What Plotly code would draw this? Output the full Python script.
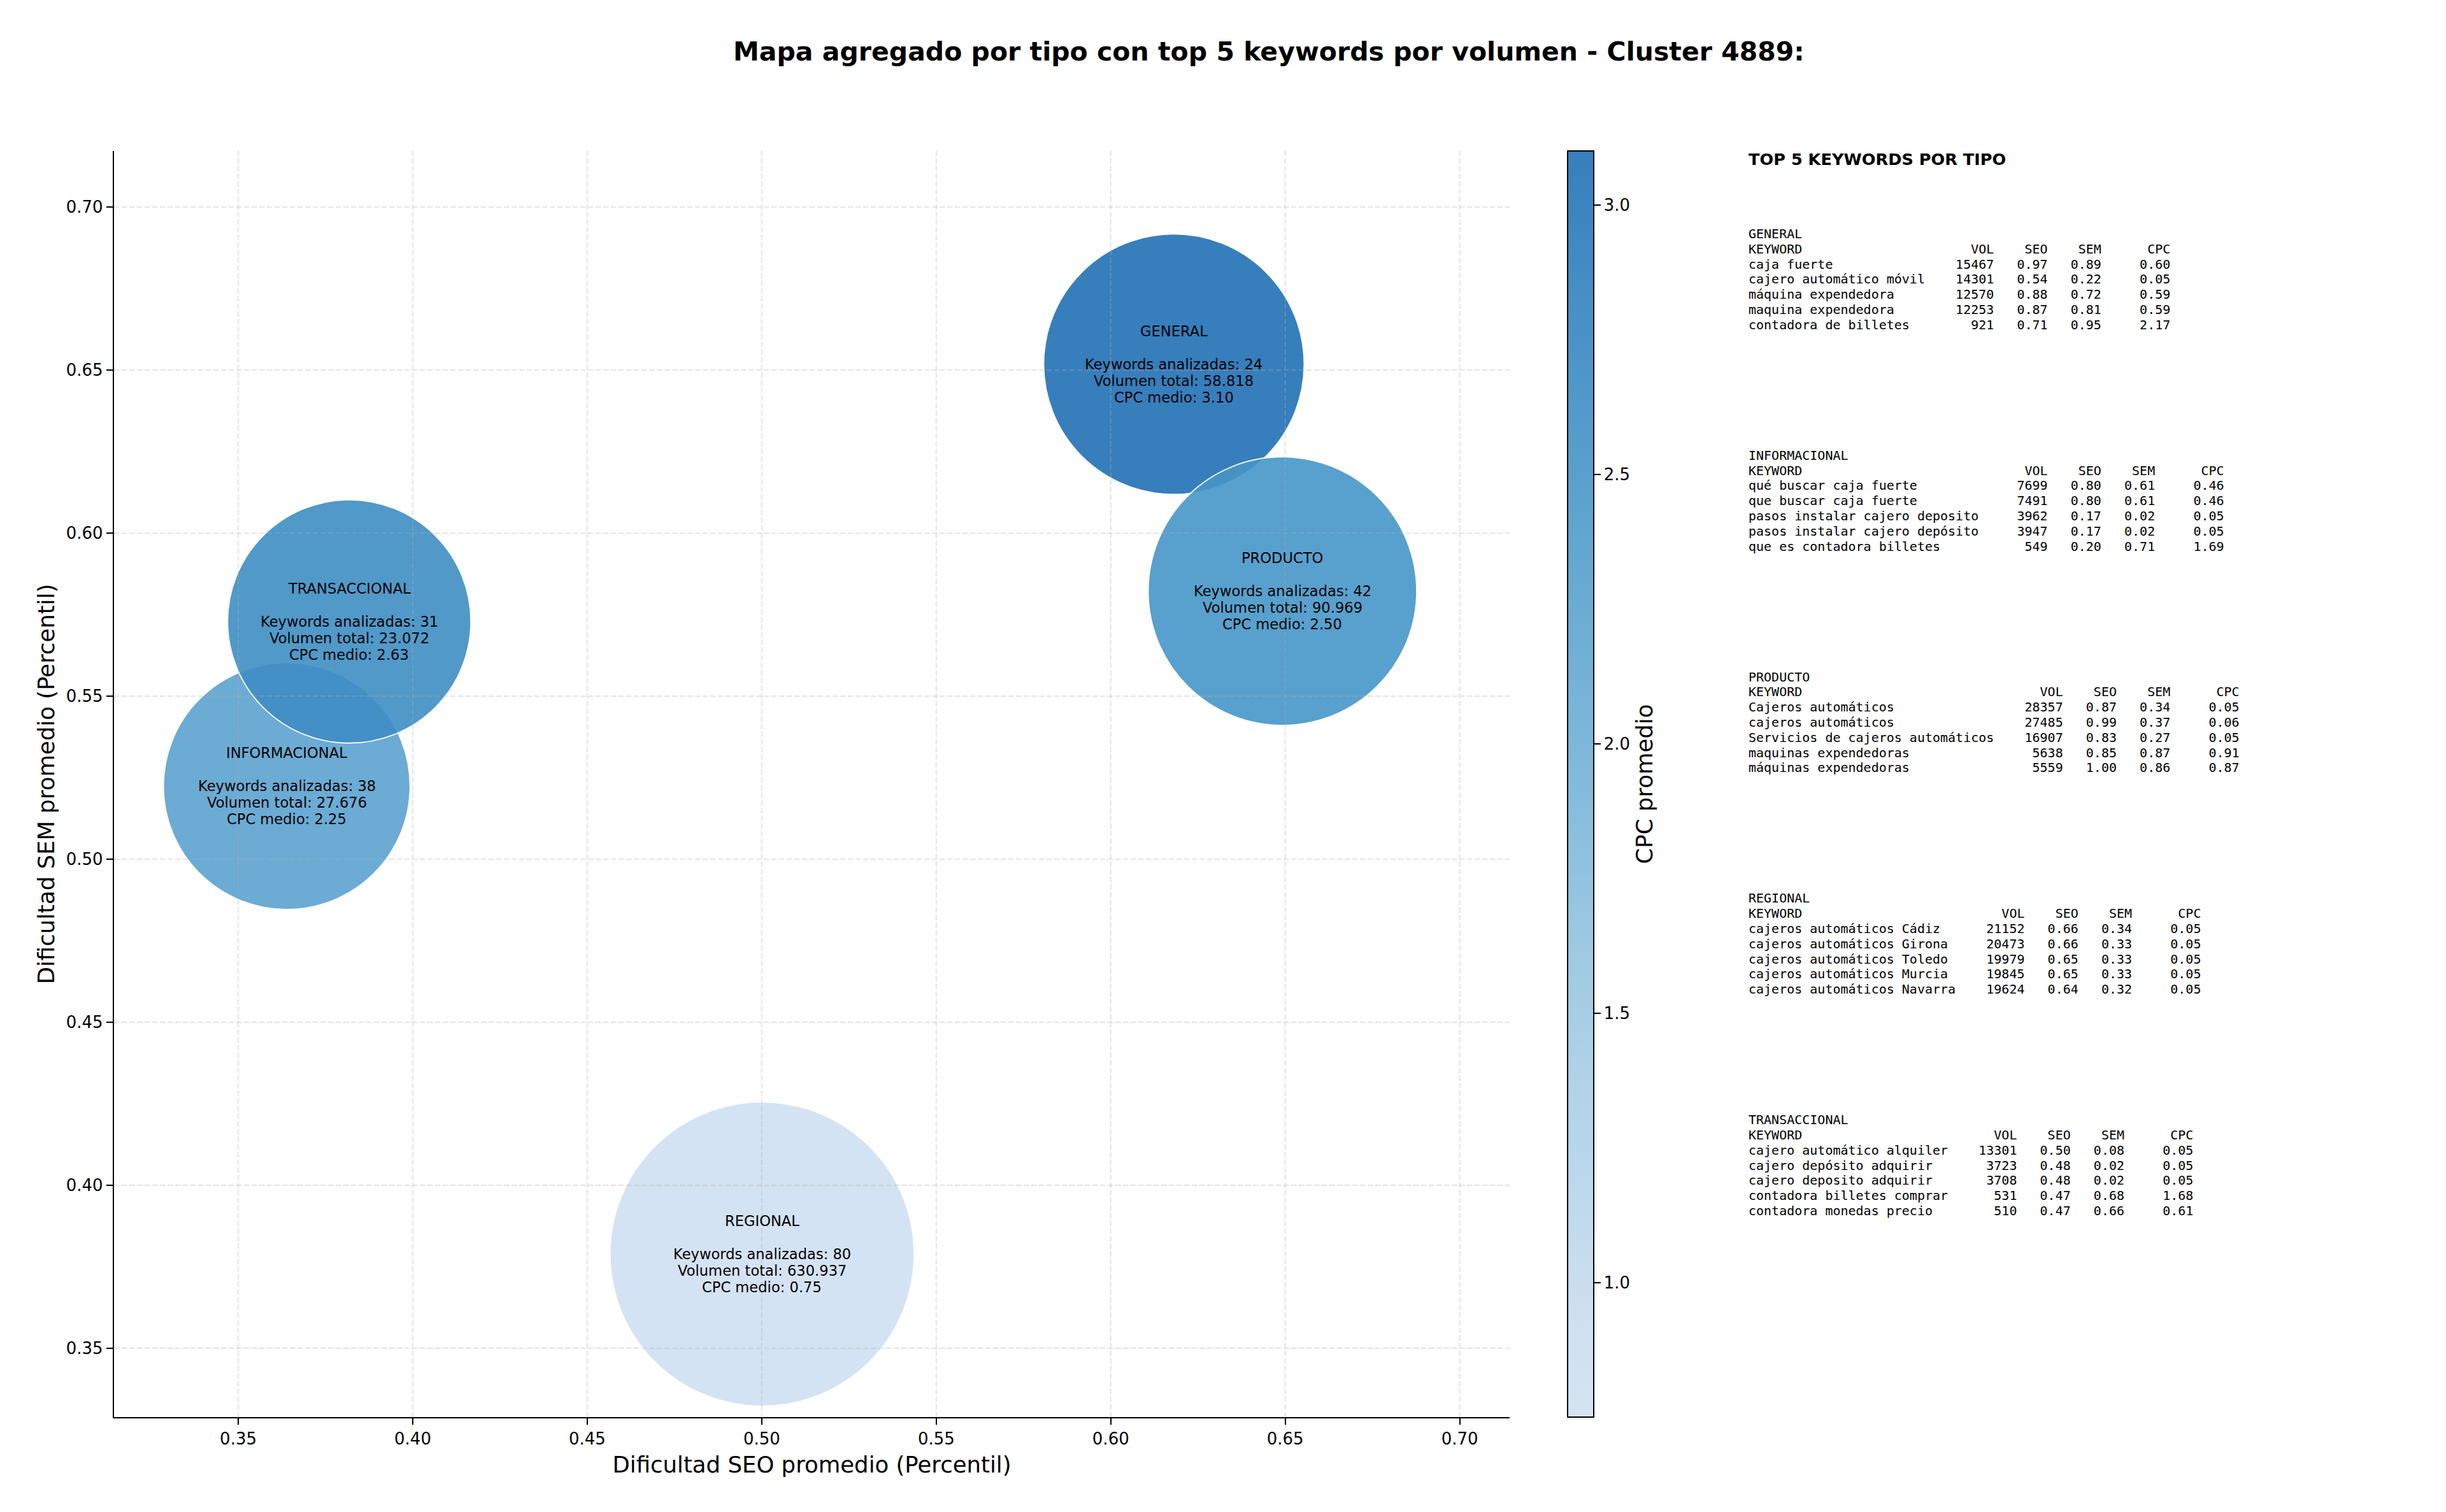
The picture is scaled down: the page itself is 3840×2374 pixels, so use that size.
import numpy as np
import plotly.graph_objects as go

W, H = 3840, 2374

# ---------------- data ----------------
tipos = ["GENERAL", "INFORMACIONAL", "PRODUCTO", "REGIONAL", "TRANSACCIONAL"]
seo_medio = [0.6181, 0.3639, 0.6492, 0.5001, 0.3818]
sem_medio = [0.6518, 0.5224, 0.5822, 0.3789, 0.5729]
n_keywords = [24, 38, 42, 80, 31]
volumen_total = [58818, 27676, 90969, 630937, 23072]
cpc_medio = [3.10, 2.25, 2.50, 0.75, 2.63]

x_ticks = [0.35, 0.40, 0.45, 0.50, 0.55, 0.60, 0.65, 0.70]
y_ticks = [0.35, 0.40, 0.45, 0.50, 0.55, 0.60, 0.65, 0.70]
cb_ticks = [1.0, 1.5, 2.0, 2.5, 3.0]

general_kw = ["caja fuerte", "cajero automático móvil", "máquina expendedora",
              "maquina expendedora", "contadora de billetes"]
general_vol = [15467, 14301, 12570, 12253, 921]
general_seo = [0.97, 0.54, 0.88, 0.87, 0.71]
general_sem = [0.89, 0.22, 0.72, 0.81, 0.95]
general_cpc = [0.60, 0.05, 0.59, 0.59, 2.17]

informacional_kw = ["qué buscar caja fuerte", "que buscar caja fuerte",
                    "pasos instalar cajero deposito", "pasos instalar cajero depósito",
                    "que es contadora billetes"]
informacional_vol = [7699, 7491, 3962, 3947, 549]
informacional_seo = [0.80, 0.80, 0.17, 0.17, 0.20]
informacional_sem = [0.61, 0.61, 0.02, 0.02, 0.71]
informacional_cpc = [0.46, 0.46, 0.05, 0.05, 1.69]

producto_kw = ["Cajeros automáticos", "cajeros automáticos",
               "Servicios de cajeros automáticos", "maquinas expendedoras",
               "máquinas expendedoras"]
producto_vol = [28357, 27485, 16907, 5638, 5559]
producto_seo = [0.87, 0.99, 0.83, 0.85, 1.00]
producto_sem = [0.34, 0.37, 0.27, 0.87, 0.86]
producto_cpc = [0.05, 0.06, 0.05, 0.91, 0.87]

regional_kw = ["cajeros automáticos Cádiz", "cajeros automáticos Girona",
               "cajeros automáticos Toledo", "cajeros automáticos Murcia",
               "cajeros automáticos Navarra"]
regional_vol = [21152, 20473, 19979, 19845, 19624]
regional_seo = [0.66, 0.66, 0.65, 0.65, 0.64]
regional_sem = [0.34, 0.33, 0.33, 0.33, 0.32]
regional_cpc = [0.05, 0.05, 0.05, 0.05, 0.05]

transaccional_kw = ["cajero automático alquiler", "cajero depósito adquirir",
                    "cajero deposito adquirir", "contadora billetes comprar",
                    "contadora monedas precio"]
transaccional_vol = [13301, 3723, 3708, 531, 510]
transaccional_seo = [0.50, 0.48, 0.48, 0.47, 0.47]
transaccional_sem = [0.08, 0.02, 0.02, 0.68, 0.66]
transaccional_cpc = [0.05, 0.05, 0.05, 1.68, 0.61]

# ---------------- styling helpers ----------------
FONT = "DejaVu Sans"
MONO = "DejaVu Sans Mono"
ALPHA = 0.9

_blues = [(247, 251, 255), (222, 235, 247), (198, 219, 239), (158, 202, 225),
          (107, 174, 214), (66, 146, 198), (33, 113, 181), (8, 81, 156), (8, 48, 107)]


def blues(t):
    p = t * (len(_blues) - 1)
    i = min(int(np.floor(p)), len(_blues) - 2)
    f = p - i
    a, b = np.array(_blues[i]), np.array(_blues[i + 1])
    return a + (b - a) * f


def make_scale(lo, hi, alpha=1.0, n=12):
    out = []
    for k in range(n):
        s = k / (n - 1)
        c = blues(lo + (hi - lo) * s)
        c = alpha * c + (1 - alpha) * 255
        out.append([s, "rgb(%d,%d,%d)" % tuple(np.round(c).astype(int))])
    return out


LO, HI = 0.2, 0.75
scale_marker = make_scale(LO, HI)
scale_bar = make_scale(LO, HI, ALPHA)
cmin, cmax = min(cpc_medio), max(cpc_medio)

xr = [0.3144, 0.7143]
yr = [0.3289, 0.7172]

# plot area in pixels
PL, PR, PT, PB = 179, 2370, 237, 2225

fig = go.Figure()

# bubble sizes from log volume
sizes = [91.9 + 66.5 * np.log10(v) for v in volumen_total]

fig.add_trace(go.Scatter(
    x=seo_medio, y=sem_medio, mode="markers",
    marker=dict(size=sizes, sizemode="diameter", color=cpc_medio,
                colorscale=scale_marker, cmin=cmin, cmax=cmax,
                opacity=ALPHA, line=dict(color="white", width=2),
                showscale=False),
    hoverinfo="skip", showlegend=False))

# grid lines above bubbles (as in reference)
gx, gy = [], []
for t in x_ticks:
    gx += [t, t, None]
    gy += [yr[0], yr[1], None]
for t in y_ticks:
    gx += [xr[0], xr[1], None]
    gy += [t, t, None]
fig.add_trace(go.Scatter(x=gx, y=gy, mode="lines",
                         line=dict(color="rgba(176,176,176,0.3)", width=2.3, dash="8.4px,3.6px"),
                         hoverinfo="skip", showlegend=False))

# colorbar carrier
fig.add_trace(go.Scatter(
    x=[None], y=[None], mode="markers",
    marker=dict(color=[cmin, cmax], colorscale=scale_bar, cmin=cmin, cmax=cmax,
                showscale=True,
                colorbar=dict(
                    x=2461 / W, xanchor="left", xpad=0, ypad=0,
                    y=1 - (PT + PB) / 2 / H, yanchor="middle",
                    len=PB - PT, lenmode="pixels",
                    thickness=41, thicknessmode="pixels",
                    outlinewidth=2, outlinecolor="black",
                    ticks="outside", ticklen=10, tickwidth=2.3, tickcolor="black",
                    tickvals=cb_ticks, ticktext=["%.1f" % v for v in cb_ticks],
                    tickfont=dict(family=FONT, size=26, color="black"),
                    title=dict(text="CPC promedio", side="right",
                               font=dict(family=FONT, size=35.5, color="black")),
                )),
    hoverinfo="skip", showlegend=False))

annotations = []

# bubble labels
LS = 26
for t, xv, yv, n, v, c in zip(tipos, seo_medio, sem_medio, n_keywords, volumen_total, cpc_medio):
    lines = [t, "", "Keywords analizadas: %d" % n,
             "Volumen total: " + format(v, ",").replace(",", "."),
             "CPC medio: %.2f" % c]
    for i, ln in enumerate(lines):
        if not ln:
            continue
        annotations.append(dict(x=xv, y=yv, xref="x", yref="y", text=ln, showarrow=False,
                                 xanchor="center", yanchor="middle", yshift=(2 - i) * LS,
                                 font=dict(family=FONT, size=22.6, color="black")))

# right panel
PX = 2743 / W
annotations.append(dict(x=PX, y=1 - 250 / H, xref="paper", yref="paper",
                        text="<b>TOP 5 KEYWORDS POR TIPO</b>", showarrow=False,
                        xanchor="left", yanchor="middle",
                        font=dict(family=FONT, size=25.6, color="black")))

blocks = [
    ("GENERAL", general_kw, general_vol, general_seo, general_sem, general_cpc),
    ("INFORMACIONAL", informacional_kw, informacional_vol, informacional_seo, informacional_sem, informacional_cpc),
    ("PRODUCTO", producto_kw, producto_vol, producto_seo, producto_sem, producto_cpc),
    ("REGIONAL", regional_kw, regional_vol, regional_seo, regional_sem, regional_cpc),
    ("TRANSACCIONAL", transaccional_kw, transaccional_vol, transaccional_seo, transaccional_sem, transaccional_cpc),
]
B0, BSTEP, LSTEP = 367, 347.8, 23.8
for b, (name, kws, vols, seos, sems, cpcs) in enumerate(blocks):
    w = max(len(k) for k in kws)
    rows = [name, "KEYWORD".ljust(w) + "%9s%7s%7s%9s" % ("VOL", "SEO", "SEM", "CPC")]
    for k, v, s1, s2, c in zip(kws, vols, seos, sems, cpcs):
        rows.append(k.ljust(w) + "%9d%7.2f%7.2f%9.2f" % (v, s1, s2, c))
    for i, r in enumerate(rows):
        annotations.append(dict(x=PX, y=1 - (B0 + b * BSTEP + i * LSTEP) / H,
                                xref="paper", yref="paper",
                                text=r.replace(" ", "\u00a0"), showarrow=False,
                                xanchor="left", yanchor="middle",
                                font=dict(family=MONO, size=20, color="black")))

# title
annotations.append(dict(x=1992 / W, y=1 - 81 / H, xref="paper", yref="paper",
                        text="<b>Mapa agregado por tipo con top 5 keywords por volumen - Cluster 4889:</b>",
                        showarrow=False, xanchor="center", yanchor="middle",
                        font=dict(family=FONT, size=41, color="black")))

axis_common = dict(showline=True, linewidth=2.3, linecolor="black", mirror=False,
                   ticks="outside", ticklen=10, tickwidth=2.3, tickcolor="black",
                   showgrid=False, zeroline=False,
                   tickfont=dict(family=FONT, size=26, color="black"))

fig.update_layout(
    width=W, height=H, margin=dict(l=0, r=0, t=0, b=0),
    paper_bgcolor="white", plot_bgcolor="white",
    xaxis=dict(range=xr, domain=[PL / W, PR / W], tickvals=x_ticks,
               ticktext=["%.2f" % v for v in x_ticks],
               title=dict(text="Dificultad SEO promedio (Percentil)", standoff=14,
                          font=dict(family=FONT, size=35.5, color="black")),
               **axis_common),
    yaxis=dict(range=yr, domain=[1 - PB / H, 1 - PT / H], tickvals=y_ticks,
               ticktext=["%.2f" % v for v in y_ticks],
               title=dict(text="Dificultad SEM promedio (Percentil)", standoff=7,
                          font=dict(family=FONT, size=35.5, color="black")),
               **axis_common),
    annotations=annotations,
    showlegend=False,
)

fig.write_html("out.html")
